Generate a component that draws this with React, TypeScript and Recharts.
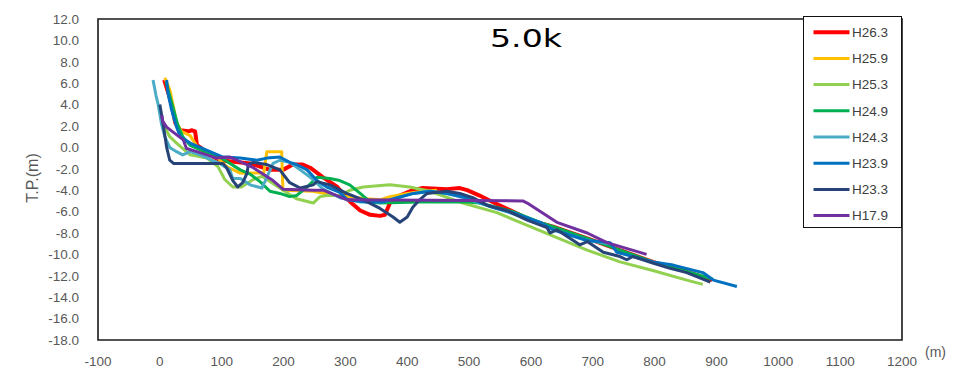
import { Legend, Line, LineChart, ReferenceArea, XAxis, YAxis } from 'recharts';

type Pt = [number, number];

const xTicks = [-100, 0, 100, 200, 300, 400, 500, 600, 700, 800, 900, 1000, 1100, 1200];
const yTicks = [-18, -16, -14, -12, -10, -8, -6, -4, -2, 0, 2, 4, 6, 8, 10, 12];

// cross-section profiles, distance (m) vs elevation T.P. (m)
const h263: Pt[] = [
  [7, 6.3], [19, 4.1], [25, 2.3], [33, 1.6], [46, 1.5], [52, 1.6], [57, 1.5], [60, 0.2], [68, -0.1],
  [81, -0.7], [97, -1.2], [146, -1.5], [178, -2.1], [199, -2.1], [215, -1.6], [231, -1.6], [243, -1.9],
  [264, -2.8], [287, -3.7], [308, -5.1], [324, -5.9], [340, -6.3], [356, -6.4], [364, -6.3], [372, -5.2],
  [388, -4.5], [409, -4.0], [425, -3.8], [464, -3.9], [485, -3.8], [497, -4.0], [517, -4.5], [538, -5.1],
  [571, -6.0], [603, -6.9], [636, -7.4], [691, -8.5], [744, -9.6], [797, -10.7], [852, -11.6], [893, -12.4],
];
const h259: Pt[] = [
  [8, 6.5], [16, 5.4], [22, 3.8], [27, 2.3], [35, 1.5], [49, 1.1], [60, 0.1], [70, -0.4], [92, -0.9],
  [108, -1.8], [130, -2.4], [157, -2.4], [168, -2.4], [173, -0.4], [197, -0.4], [199, -4.0], [248, -4.1],
  [275, -4.4], [303, -4.6], [335, -4.8], [356, -4.9], [372, -4.6], [400, -4.3], [425, -4.1], [448, -4.0],
];
const h253: Pt[] = [
  [5, 2.4], [8, 1.9], [16, 1.0], [27, 0.4], [49, -0.7], [76, -1.0], [94, -1.8], [105, -3.0], [118, -3.7],
  [132, -3.7], [151, -3.0], [165, -2.7], [186, -3.5], [210, -4.4], [221, -4.8], [248, -5.2], [259, -4.6],
  [270, -4.5], [291, -4.5], [307, -4.0], [329, -3.7], [372, -3.5], [404, -3.7], [437, -4.1], [490, -5.2],
  [545, -6.1], [599, -7.4], [636, -8.3], [691, -9.6], [744, -10.7], [797, -11.5], [852, -12.4], [878, -12.8],
];
const h249: Pt[] = [
  [10, 6.1], [20, 4.0], [29, 2.1], [37, 1.0], [49, 0.2], [65, -0.2], [97, -0.9], [130, -2.1], [146, -2.5],
  [162, -3.2], [178, -4.1], [194, -4.3], [210, -4.6], [221, -4.5], [238, -3.7], [254, -2.8], [275, -2.9],
  [291, -3.1], [307, -3.5], [324, -4.3], [340, -5.1], [356, -5.2], [420, -5.1], [497, -5.1], [517, -5.2],
  [571, -6.0], [615, -7.0], [636, -7.4], [691, -8.5], [744, -9.6], [797, -10.7], [852, -11.6], [893, -12.3],
];
const h243: Pt[] = [
  [-11, 6.3], [-6, 4.8], [-3, 4.1], [3, 2.1], [8, 1.0], [16, 0.0], [27, -0.4], [37, -0.7], [49, -0.4],
  [65, -0.7], [84, -1.2], [97, -1.5], [113, -2.1], [118, -2.9], [130, -2.9], [146, -3.5], [165, -3.8],
  [173, -2.8], [183, -1.5], [194, -1.2], [210, -1.4], [227, -2.1], [248, -3.0], [264, -3.9], [291, -4.7],
  [324, -5.1], [360, -5.1], [384, -4.7], [410, -4.3], [437, -4.1], [464, -4.3], [497, -4.8], [538, -5.6],
  [571, -6.2], [615, -7.1], [636, -7.7], [691, -8.7], [728, -9.0],
];
const h239: Pt[] = [
  [11, 6.3], [13, 5.1], [19, 3.5], [27, 1.9], [33, 1.0], [49, 0.4], [65, 0.0], [102, -0.9], [130, -1.0],
  [157, -1.2], [173, -1.0], [194, -0.9], [210, -1.4], [221, -1.6], [238, -2.1], [254, -3.1], [270, -3.7],
  [291, -4.2], [303, -4.9], [335, -5.1], [360, -5.1], [384, -4.7], [410, -4.3], [437, -4.1], [464, -4.3],
  [497, -4.7], [538, -5.6], [571, -6.1], [615, -7.0], [636, -7.7], [691, -8.7], [728, -8.9], [739, -9.8],
  [797, -10.7], [830, -11.0], [878, -11.7], [895, -12.4], [933, -13.0],
];
const h233: Pt[] = [
  [0, 4.0], [5, 2.3], [11, 0.0], [16, -1.2], [22, -1.5], [102, -1.5], [108, -1.9], [118, -3.1], [126, -3.7],
  [134, -3.3], [141, -2.4], [143, -1.6], [151, -1.4], [173, -1.6], [194, -2.1], [210, -3.3], [227, -3.8],
  [248, -3.5], [254, -3.2], [275, -3.5], [302, -4.3], [329, -4.9], [356, -5.7], [377, -6.5], [388, -7.0],
  [400, -6.5], [409, -5.6], [420, -4.9], [432, -4.3], [464, -4.1], [485, -4.3], [506, -4.7], [529, -5.4],
  [561, -5.9], [594, -6.8], [626, -7.5], [631, -8.0], [642, -7.7], [679, -9.1], [691, -8.8], [717, -9.8],
  [744, -10.2], [755, -10.5], [765, -10.2], [797, -10.8], [825, -11.3], [852, -11.7], [873, -12.2], [890, -12.6],
];
const h179: Pt[] = [
  [3, 3.0], [5, 2.4], [11, 1.9], [22, 1.4], [38, 0.7], [43, -0.1], [60, -0.4], [76, -0.7], [92, -1.0],
  [113, -0.9], [125, -1.2], [151, -1.9], [183, -3.1], [199, -3.9], [248, -4.0], [264, -4.0], [303, -4.9],
  [587, -5.0], [594, -5.2], [642, -7.0], [691, -8.0], [723, -8.9], [787, -10.0],
];

const series = [
  { name: 'H26.3', color: '#ff0000', width: 4, pts: h263 },
  { name: 'H25.9', color: '#ffc000', width: 3, pts: h259 },
  { name: 'H25.3', color: '#92d050', width: 3, pts: h253 },
  { name: 'H24.9', color: '#00b050', width: 3, pts: h249 },
  { name: 'H24.3', color: '#4bacc6', width: 3, pts: h243 },
  { name: 'H23.9', color: '#0070c0', width: 3, pts: h239 },
  { name: 'H23.3', color: '#264478', width: 3, pts: h233 },
  { name: 'H17.9', color: '#7030a0', width: 3, pts: h179 },
];

const axisFont = { fontFamily: 'Liberation Sans, Arial, sans-serif', fontSize: 13.5, fill: '#595959' };

// legend keeps the series order (newest survey first)
const LegendBox = ({ payload }: { payload?: any[] }) => {
  const entries = series
    .map((s) => ({ s, entry: (payload ?? []).find((p) => p.value === s.name) }))
    .filter((d) => d.entry);
  return (
    <div style={{ width: 99, height: 212, border: '1.5px solid #111', background: '#fff', boxSizing: 'border-box' }}>
      <svg width={96} height={209}>
        {entries.map(({ s, entry }, i) => {
          const cy = 15.2 + i * 26.2;
          return (
            <g key={s.name}>
              <line x1={9.5} x2={45.5} y1={cy} y2={cy} stroke={entry.color} strokeWidth={s.width} />
              <text x={48} y={cy + 4.8} fontFamily="Liberation Sans, Arial, sans-serif" fontSize={13.5} fill="#404040">
                {entry.value}
              </text>
            </g>
          );
        })}
      </svg>
    </div>
  );
};

export default function App() {
  return (
    <div style={{ position: 'absolute', left: 0, top: 0, width: 963, height: 372, background: '#fff' }}>
      <LineChart width={963} height={372} margin={{ top: 19, right: 61, bottom: 0, left: 0 }}>
        <XAxis
          type="number"
          dataKey="x"
          domain={[-100, 1200]}
          ticks={xTicks}
          interval={0}
          axisLine={false}
          tickLine={false}
          tickSize={0}
          tickMargin={16}
          height={32}
          tick={axisFont}
        />
        <YAxis
          type="number"
          dataKey="y"
          domain={[-18, 12]}
          ticks={yTicks}
          interval={0}
          axisLine={false}
          tickLine={false}
          tickSize={0}
          tickMargin={19}
          width={98}
          tick={axisFont}
          tickFormatter={(v: number) => v.toFixed(1)}
        />
        <ReferenceArea x1={-100} x2={1200} y1={-18} y2={12} fill="none" stroke="#1a1a1a" strokeWidth={1.6} />
        {series.map((s) => (
          <Line
            key={s.name}
            name={s.name}
            data={s.pts.map(([x, y]) => ({ x, y }))}
            dataKey="y"
            type="linear"
            stroke={s.color}
            strokeWidth={s.width}
            strokeLinejoin="round"
            dot={false}
            activeDot={false}
            isAnimationActive={false}
          />
        ))}
        <Legend
          layout="vertical"
          align="center"
          verticalAlign="middle"
          content={(props: any) => <LegendBox payload={props.payload} />}
          wrapperStyle={{ left: 803, top: 16, width: 99, height: 212 }}
        />
      </LineChart>
      <svg
        width={963}
        height={372}
        style={{ position: 'absolute', left: 0, top: 0, pointerEvents: 'none' }}
      >
        <text
          x={490}
          y={47}
          fontFamily="DejaVu Sans, sans-serif"
          fontSize={25}
          textLength={72}
          lengthAdjust="spacingAndGlyphs"
          fill="#000"
        >
          5.0k
        </text>
        <text
          x={32}
          y={178}
          transform="rotate(-90 32 178)"
          textAnchor="middle"
          dominantBaseline="central"
          fontFamily="Liberation Sans, Arial, sans-serif"
          fontSize={16}
          fill="#595959"
        >
          T.P.(m)
        </text>
        <text x={925} y={357} fontFamily="Liberation Sans, Arial, sans-serif" fontSize={14} fill="#595959">
          (m)
        </text>
      </svg>
    </div>
  );
}
